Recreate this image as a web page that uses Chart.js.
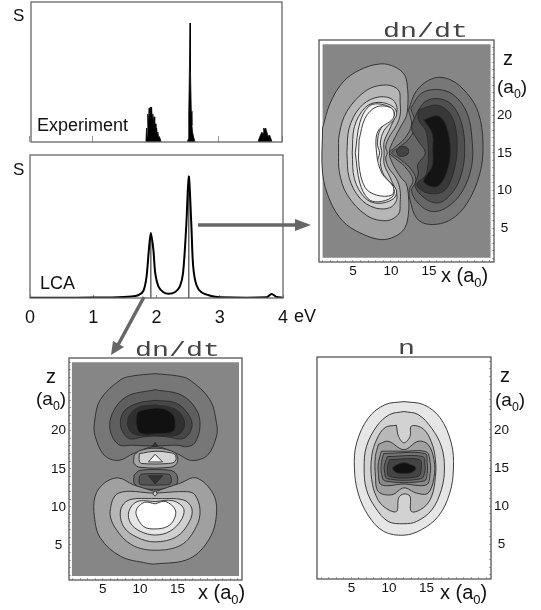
<!DOCTYPE html>
<html>
<head>
<meta charset="utf-8">
<script src="https://cdn.jsdelivr.net/npm/chart.js@4"></script>
<style>
html, body { margin: 0; padding: 0; background: #fff; }
body { position: relative; width: 541px; height: 610px; overflow: hidden; }
canvas { position: absolute; }
svg { position: absolute; left: 0; top: 0; }
.t { position: absolute; font-family: "Liberation Sans", sans-serif; line-height: 1; white-space: nowrap; color: #111; }
.t sub { font-size: 65%; line-height: 0; }
.m { position: absolute; font-family: "Liberation Mono", monospace; font-size: 21px; line-height: 1; color: #444; transform: scaleX(1.35); transform-origin: left top; }
</style>
</head>
<body>
<canvas id="expChart"></canvas>
<canvas id="lcaChart"></canvas>
<canvas id="rightChart"></canvas>
<canvas id="leftChart"></canvas>
<canvas id="densChart"></canvas>

<svg width="541" height="610">
  <line x1="198" y1="225" x2="297" y2="225" stroke="#666" stroke-width="3.5"/>
  <polygon points="311,225 295,219 295,231" fill="#666"/>
  <line x1="144" y1="297" x2="118" y2="345" stroke="#666" stroke-width="3.5"/>
  <polygon points="111,355 113,341 124,347" fill="#666"/>
</svg>

<div class="t" style="left:13px;top:7px;font-size:17px">S</div>
<div class="t" style="left:13px;top:161px;font-size:17px">S</div>
<div class="t" style="left:37px;top:116px;font-size:18px">Experiment</div>
<div class="t" style="left:40px;top:274px;font-size:18px">LCA</div>
<div class="t" style="left:294px;top:307px;font-size:18px">eV</div>

<div class="m" style="left:383px;top:21px">dn/dt</div>
<div class="m" style="left:135px;top:340px">dn/dt</div>
<div class="m" style="left:398px;top:338px">n</div>

<div class="t" style="left:503px;top:48px;font-size:20px">z</div>
<div class="t" style="left:497px;top:77px;font-size:19px">(a<sub>0</sub>)</div>
<div class="t" style="left:441px;top:265px;font-size:20px">x (a<sub>0</sub>)</div>

<div class="t" style="left:46px;top:366px;font-size:20px">z</div>
<div class="t" style="left:36px;top:389px;font-size:19px">(a<sub>0</sub>)</div>
<div class="t" style="left:198px;top:582px;font-size:20px">x (a<sub>0</sub>)</div>

<div class="t" style="left:500px;top:365px;font-size:20px">z</div>
<div class="t" style="left:495px;top:390px;font-size:19px">(a<sub>0</sub>)</div>
<div class="t" style="left:440px;top:582px;font-size:20px">x (a<sub>0</sub>)</div>

<script>
// --- spectra ---
const expPeak1 = [[1.84,0],[1.85,.10],[1.86,.04],[1.87,.2],[1.88,.12],[1.89,.24],[1.9,.16],[1.91,.25],[1.92,.2],[1.93,.25],[1.94,.17],[1.95,.2],[1.96,.13],[1.97,.18],[1.98,.1],[1.99,.13],[2,.07],[2.01,.1],[2.02,.05],[2.03,.07],[2.04,.03],[2.05,.04],[2.07,.02],[2.08,0]];
const expPeak2 = [[2.5,0],[2.51,.02],[2.52,.2],[2.53,.5],[2.54,.85],[2.545,.6],[2.55,.5],[2.56,.22],[2.57,.12],[2.58,.07],[2.6,.03],[2.62,0]];
const expPeak3 = [[3.62,0],[3.64,.03],[3.66,.05],[3.68,.07],[3.7,.06],[3.71,.1],[3.72,.09],[3.74,.1],[3.76,.07],[3.78,.04],[3.8,.05],[3.82,.03],[3.84,0]];

const lcaEnergy = [0,.5,1,1.3,1.6,1.71,1.79,1.84,1.88,1.91,1.95,1.98,2.03,2.11,2.19,2.29,2.37,2.42,2.47,2.51,2.55,2.58,2.63,2.71,2.85,3,3.74,3.82,3.9,4];
const lcaS = [.002,.002,.003,.004,.01,.019,.047,.14,.34,.455,.34,.175,.082,.04,.03,.04,.082,.175,.5,.85,.52,.22,.093,.04,.016,.005,.005,.028,.007,.002];
const lcaSticks = [[1.91,.455],[2.51,.85]];
const evTicks = [0,1,2,3,4];

// --- tick labels of the contour panels ---
const xLabels = [5,10,15];
const zLabels = [5,10,15,20];
const xTicks = [1,2,3,4,5,6,7,8,9,10,11,12,13,14,15,16,17,18,19,20,21,22,23];
const zTicks = [1,2,3,4,5,6,7,8,9,10,11,12,13,14,15,16,17,18,19,20,21,22,23,24,25,26,27,28,29];

// --- dn/dt at 2.5 eV (upper right), contours as [x, z] ---
const rPlate = [[1,1.1],[1,29.4],[23.1,29.4],[23.1,1.1]];
const rLight1 = [[1,18.3],[2,21.6],[3.7,24.4],[5.9,26],[8.6,26.8],[10.5,26.4],[11.8,25.3],[12.2,23.3],[12.2,21],[12,19.8],[11.4,18.7],[10.5,17],[9.9,15.7],[9.8,15],[9.9,14.3],[10.5,13],[11.4,11.6],[12,10.9],[12.3,9.2],[12.3,7],[11.8,5],[10.5,3.9],[8.6,3.5],[5.9,4.4],[3.7,5.9],[2,8.6],[1,12.3]];
const rLight2 = [[3.1,15],[3.2,17.5],[4.2,20.5],[6.8,23.3],[9.4,24],[11,23.3],[11.2,21.7],[11.2,20],[10.7,18.6],[9.7,17],[9.3,15.8],[9.5,15],[9.3,14.2],[9.7,13],[10.7,11.6],[11.2,10],[11.2,8.4],[11,6.9],[9.4,6],[6.8,6.7],[4.2,9.5],[3.2,12.5]];
const rLight3 = [[4.2,15],[4.5,18.3],[5.9,21],[7.9,22.3],[10,22.2],[10.8,20.8],[9.9,18.3],[9.1,16.5],[9.1,15],[9.1,13.5],[9.9,11.7],[10.8,9.2],[10,7.8],[7.9,7.7],[5.9,9],[4.5,11.7]];
const rLight4 = [[4.9,15],[5.2,18.5],[6.6,21],[8.3,21.7],[10.3,21.1],[10.7,19.9],[9.1,18],[8.6,16.3],[8.8,15],[8.6,13.7],[9.1,12],[10.7,10.1],[10.3,8.9],[8.3,8.3],[6.6,9],[5.2,11.5]];
const rLight5 = [[5.3,15],[5.9,19],[7,21.1],[8.3,21.5],[10.1,20.9],[10.4,19.9],[8.7,18.3],[8.2,16.3],[8.5,15],[8.2,13.7],[8.7,11.7],[10.4,10.1],[10.1,9.1],[8.3,8.5],[7,8.9],[5.9,11]];
const rWhite = [[5.8,16.7],[6.6,19.6],[8.1,21.1],[10.1,20.9],[10.3,19.6],[8.3,17.9],[8.1,15],[8.8,12.3],[10.3,10.5],[10.1,9.4],[8.1,9.4],[6.6,10.4],[5.8,13.3]];
const rDark1 = [[12.3,20.7],[13.4,23.3],[15.6,24.9],[17.8,24.7],[20,22.9],[21.5,20.3],[22.1,16.3],[21.7,12.3],[20,8.3],[17.8,6.1],[15.1,5.5],[13.4,6.3],[12.5,8.8],[12.4,10.1],[12.9,11.4],[11.8,13.2],[10.5,14.3],[9.8,15],[10.5,15.7],[11.8,16.9],[12.7,18.7]];
const rDark2 = [[12.6,20.9],[14,22.9],[16.2,23.4],[18.2,22.7],[20,20.3],[20.7,16.3],[20.6,13.2],[19.5,10.1],[17.8,8.1],[15.8,7.2],[14,7.9],[12.7,9.9],[13.3,11.4],[12.5,13],[11,14.3],[10.1,15],[11,15.7],[12.4,16.9],[13.2,18.7]];
const rDark3 = [[13.4,20.3],[14.5,21.8],[16.2,22.2],[18,21.4],[19.3,18.9],[19.7,15.4],[19.3,12.3],[18.2,9.9],[16.4,8.4],[14.7,8.8],[13.2,10.5],[13.6,12.3],[13.5,13.4],[14.5,15],[13.5,16.7],[12.7,18.3]];
const rBlob = [[10.7,15.3],[11.2,15.8],[12.1,15.7],[12.3,15],[11.8,14.6],[11,14.6]];
const rDark4 = [[13.6,20.7],[16.2,21.3],[18,19.8],[18.7,16.3],[18.2,12.3],[16.9,9.9],[14.7,9.7],[13.4,10.8],[14.7,12.3],[14.7,17.6],[13.6,19.4]];
const rDark5 = [[14.3,19.4],[16.2,19.9],[17.3,18.5],[17.8,15.4],[17.3,12.3],[16,10.5],[14.3,11.2],[15.4,13.2],[15.5,15.4],[15.4,17.6]];

// --- dn/dt at 1.9 eV (lower left) ---
const lPlate = [[.9,.9],[.9,29],[23.2,29],[23.2,.9]];
const lTop1 = [[12,27.5],[9,27.2],[7.4,26.7],[4.7,24.1],[3.9,21],[4,19.3],[5.2,16.8],[7.1,16.1],[9.1,17],[12,17.9],[14.9,17],[16.9,16.1],[19,16.8],[20.2,19.3],[20.2,21],[19.3,24.1],[16.6,26.7],[15,27.2]];
const lTop2 = [[12,25.4],[8.2,24.5],[6.3,22.3],[6,20.1],[7.1,18.2],[9,18.1],[12,18],[15,18.1],[16.2,17.9],[17.3,18.4],[18,20.6],[17.5,22.8],[15.5,24.7]];
const lTop3 = [[12,24],[9.6,23.6],[7.8,22.5],[7.4,20.6],[8.5,19],[10.5,19.2],[12,19.3],[13.5,19.2],[15.8,19],[16.9,20.4],[16.6,21.9],[14.9,23.6]];
const lTop4 = [[12,23.4],[9.8,23.1],[8.5,21.9],[8.4,20.5],[9.3,19.5],[12,19.4],[14.9,19.4],[15.9,20.5],[15.6,22],[14.3,23]];
const lTop5 = [[9.5,21.9],[9.8,22.5],[11.3,22.9],[13.1,22.9],[14.4,22.1],[14.7,21],[14.4,19.9],[12.2,19.6],[10,19.7],[9.5,20.8]];
const lNotchUp = [[12,18.5],[12.4,17.9],[11.6,17.9]];
const lBandA1 = [[9.2,16.8],[10,17.4],[12,17.7],[14,17.4],[14.9,16.8],[14.9,15.7],[14,15.2],[10,15.2],[9.2,15.7]];
const lBandA2 = [[9.9,17],[12,17.3],[14.1,17.1],[14.7,16.8],[14.7,16],[13.8,15.7],[10.2,15.7],[9.9,16]];
const lBandA3 = [[12,16.9],[13,15.9],[11.1,15.9]];
const lBandB1 = [[9.2,14.2],[10,14.8],[14,14.8],[14.9,14.2],[14.9,13],[14,12.5],[12,12.3],[10,12.5],[9.2,13.1]];
const lBandB2 = [[9.9,14],[10.2,14.3],[13.8,14.3],[14.1,14],[14.1,13.1],[13.6,12.9],[10.2,12.9],[9.9,13.1]];
const lBandB3 = [[11.1,14.1],[13,14.1],[12,13]];
const lBot1 = [[12,12],[9.1,12.9],[7.1,13.8],[5.2,13.1],[4,11.4],[3.9,8.7],[4.7,5.9],[7.4,3.5],[10.9,2.6],[12,2.5],[16.6,3.2],[19.3,5.9],[20.2,9.2],[19.7,11.8],[17.5,13.8],[15.3,13.1]];
const lBot2 = [[12,11.8],[7.1,11.8],[6,9.4],[6.7,7.2],[8.9,5],[12,4.3],[15.5,5],[17.5,7.4],[18,9.6],[17.3,11.6],[16.2,12]];
const lBot3 = [[12,11.1],[8.5,10.9],[7.4,9.6],[7.8,7.4],[9.6,6],[12,5.4],[14.9,6.1],[16.6,8.1],[16.9,9.8],[15.8,10.9]];
const lBot4 = [[12,10.7],[9.6,10.7],[8.5,9.4],[8.7,7.9],[10,6.8],[12,6.3],[14,6.8],[15.5,8.3],[15.8,9.8],[14.4,10.8]];
const lBot5 = [[12,10.4],[10.6,10.6],[9.6,9.8],[9.5,8.9],[10.5,7.4],[12,7.1],[13.6,7.4],[14.5,8.3],[14.7,9.6],[13.4,10.7]];
const lNotchDown = [[12,12.2],[12.3,11.7],[12,11.4],[11.7,11.7]];

// --- ground state density n (lower right) ---
const nLevel1 = [[12,23.7],[14.6,23.3],[16.8,21.6],[18.3,18.3],[18.6,15],[18.1,11.7],[16.6,8.7],[14.3,6.9],[12,6.2],[9.3,6.7],[7.3,8.7],[5.9,11.7],[5.4,15],[5.7,18.3],[7.3,21.6],[9.5,23.3]];
const nLevel2 = [[12,22.4],[13.9,22],[15.7,20.2],[17,17.8],[17.4,15],[17,12.2],[15.7,9.5],[13.7,8],[12,7.7],[9.9,8],[8.2,9.8],[7,12.2],[6.7,15],[7,17.8],[8.4,20.5],[10.1,22]];
const nLevel3 = [[11,20.6],[11.3,19.1],[12,18.3],[12.8,19.1],[13,20.5],[14.6,20.1],[15.7,18.3],[16.2,16.1],[16.2,13.9],[15.7,11.3],[14.6,9.8],[13,9.3],[12.8,11.3],[12,11.6],[11.3,11.1],[11,9.3],[9.5,9.8],[8.4,11.1],[7.7,13.5],[7.7,16.5],[8.4,18.8],[9.5,20.3]];
const nLevel4 = [[8.6,18.1],[9.9,18.5],[12,17.4],[13.9,18.5],[15.2,18.1],[16,16.1],[16,13.7],[15.2,11.7],[13.7,11.7],[12,12.4],[10.4,11.5],[8.6,11.9],[8.2,13.9],[8.2,16.5]];
const nLevel5 = [[9,17.2],[12,17.2],[15,17.1],[15.5,15.7],[15.5,14.3],[15,12.8],[12,12.9],[9,12.8],[8.6,14.3],[8.6,15.7]];
const nLevel6 = [[9.3,16.9],[14.8,16.9],[15.1,15.7],[15.1,14.3],[14.7,13.3],[9.5,13.3],[9,14.3],[9,15.7]];
const nLevel7 = [[9.8,16.5],[14.5,16.5],[14.8,15.4],[14.8,14.6],[14.3,13.6],[9.8,13.6],[9.4,14.6],[9.4,15.4]];
const nLevel8 = [[10.1,16.1],[14.1,16.1],[14.3,15],[13.9,13.9],[10.1,13.9],[9.8,15]];
const nLevel9 = [[11,15.4],[12,15.7],[13,15.4],[13.6,15],[13,14.4],[12,14.3],[11,14.4],[10.5,15]];

Chart.defaults.font.family = '"Liberation Sans", sans-serif';
Chart.defaults.color = "#111";

const frameBox = {
    id: "frameBox",
    afterDraw(chart, args, opts) {
        const a = chart.chartArea;
        chart.ctx.save();
        chart.ctx.strokeStyle = opts.color;
        chart.ctx.lineWidth = 1.3;
        chart.ctx.strokeRect(a.left, a.top, a.right - a.left, a.bottom - a.top);
        chart.ctx.restore();
    }
};

const toPoints = pairs => pairs.map(p => ({ x: p[0], y: p[1] }));

// place the canvas so the plot area lands exactly on the frame
function baseChart(id, frame, margin, yAxis, datasets, xScale, frameColor) {
    const canvas = document.getElementById(id);
    canvas.width = frame.w + margin.l + margin.r;
    canvas.height = frame.h + margin.t + margin.b;
    canvas.style.left = (frame.x - margin.l) + "px";
    canvas.style.top = (frame.y - margin.t) + "px";
    const right = yAxis.position === "right";
    const hasLabels = yAxis.display !== false;
    return new Chart(canvas.getContext("2d"), {
        type: "scatter",
        data: { datasets },
        options: {
            responsive: false,
            animation: false,
            devicePixelRatio: 1,
            layout: { padding: {
                left: hasLabels && !right ? 0 : margin.l,
                right: hasLabels && right ? 0 : margin.r,
                top: margin.t,
                bottom: 0
            } },
            plugins: { legend: { display: false }, tooltip: { enabled: false }, frameBox: { color: frameColor } },
            scales: {
                x: Object.assign({ type: "linear" }, xScale, { afterFit: s => {
                    s.height = margin.b;
                    s.paddingLeft = 0;
                    s.paddingRight = 0;
                } }),
                y: Object.assign({ type: "linear" }, yAxis, { afterFit: s => {
                    s.width = !hasLabels ? 0 : (right ? margin.r : margin.l);
                    s.paddingTop = 0;
                    s.paddingBottom = 0;
                } })
            }
        },
        plugins: [frameBox]
    });
}

function tickGrid(len, color) {
    return { drawOnChartArea: false, tickLength: -len, tickColor: color, tickWidth: 1 };
}

function contourChart(id, frame, margin, side, xRange, zRange, levels) {
    const datasets = levels.map((lv, i) => {
        const pts = toPoints(lv.pts.concat([lv.pts[0]]));
        return {
            data: pts,
            showLine: true,
            pointRadius: 0,
            tension: lv.sharp ? 0 : 0.36,
            fill: "shape",
            backgroundColor: lv.color,
            borderColor: lv.line === false ? "transparent" : "#2a2a2a",
            borderWidth: 0.9,
            order: levels.length - i
        };
    });
    return baseChart(id, frame, margin, {
        position: side,
        min: zRange[0],
        max: zRange[1],
        afterBuildTicks: a => { a.ticks = zTicks.map(v => ({ value: v })); },
        border: { display: false },
        grid: tickGrid(2, "#aaa"),
        ticks: {
            autoSkip: false,
            padding: 5,
            crossAlign: "center",
            font: { size: 13.5 },
            callback: v => zLabels.includes(v) ? String(v) : ""
        }
    }, datasets, {
        min: xRange[0],
        max: xRange[1],
        afterBuildTicks: a => { a.ticks = xTicks.map(v => ({ value: v })); },
        border: { display: false },
        grid: tickGrid(2, "#aaa"),
        ticks: {
            autoSkip: false,
            maxRotation: 0,
            padding: 3,
            font: { size: 13.5 },
            callback: v => xLabels.includes(v) ? String(v) : ""
        }
    }, "#555");
}

const hiddenS = { display: false, min: 0, max: 1 };

// --- EXPERIMENT ---
baseChart("expChart", { x: 31, y: 2, w: 251, h: 140 }, { l: 2, r: 2, t: 2, b: 4 }, hiddenS,
    [expPeak1, expPeak2, expPeak3].map(peak => ({
        data: toPoints(peak),
        showLine: true,
        pointRadius: 0,
        borderColor: "#000",
        borderWidth: 0.8,
        backgroundColor: "#000",
        fill: "origin"
    })),
    {
        min: 0.016, max: 4,
        afterBuildTicks: a => { a.ticks = evTicks.map(v => ({ value: v })); },
        border: { display: false },
        grid: tickGrid(6, "#999"),
        ticks: { display: false }
    }, "#666");

// --- LCA ---
const lcaCurve = lcaEnergy.map((e, i) => ({ x: e, y: lcaS[i] }));
baseChart("lcaChart", { x: 30, y: 155, w: 253, h: 143 }, { l: 12, r: 12, t: 2, b: 30 }, hiddenS,
    [{
        data: lcaCurve,
        showLine: true,
        pointRadius: 0,
        borderColor: "#000",
        borderWidth: 2,
        tension: 0.3,
        order: 0
    }].concat(lcaSticks.map(s => ({
        data: [{ x: s[0], y: 0 }, { x: s[0], y: s[1] }],
        showLine: true,
        pointRadius: 0,
        borderColor: "#666",
        borderWidth: 1.5,
        order: 1
    }))),
    {
        min: 0, max: 4,
        afterBuildTicks: a => { a.ticks = evTicks.map(v => ({ value: v })); },
        border: { display: false },
        grid: tickGrid(3, "#888"),
        ticks: { padding: 12, maxRotation: 0, font: { size: 18 }, callback: v => String(v) }
    }, "#666");

// --- CONTOUR PANELS ---
contourChart("rightChart", { x: 319, y: 40, w: 175, h: 222 }, { l: 2, r: 36, t: 2, b: 20 }, "right", [.53, 23.55], [.52, 29.97], [
    { pts: rPlate, color: "#868686", line: false, sharp: true },
    { pts: rLight1, color: "#a0a0a0" },
    { pts: rLight2, color: "#b6b6b6" },
    { pts: rLight3, color: "#cecece" },
    { pts: rLight4, color: "#e2e2e2" },
    { pts: rLight5, color: "#f0f0f0" },
    { pts: rWhite, color: "#ffffff" },
    { pts: rDark1, color: "#777777" },
    { pts: rDark2, color: "#666666" },
    { pts: rBlob, color: "#444444" },
    { pts: rDark3, color: "#505050" },
    { pts: rDark4, color: "#383838" },
    { pts: rDark5, color: "#141414" }
]);

contourChart("leftChart", { x: 68.5, y: 358, w: 173.5, h: 222 }, { l: 30, r: 2, t: 2, b: 20 }, "left", [.51, 23.6], [.39, 29.56], [
    { pts: lPlate, color: "#868686", line: false, sharp: true },
    { pts: lTop1, color: "#777777" },
    { pts: lTop2, color: "#5f5f5f" },
    { pts: lTop3, color: "#474747" },
    { pts: lTop4, color: "#303030" },
    { pts: lTop5, color: "#111111" },
    { pts: lNotchUp, color: "#333333", sharp: true },
    { pts: lBandA1, color: "#a6a6a6" },
    { pts: lBandA2, color: "#d2d2d2" },
    { pts: lBandA3, color: "#f4f4f4", sharp: true },
    { pts: lBandB1, color: "#6d6d6d" },
    { pts: lBandB2, color: "#555555" },
    { pts: lBandB3, color: "#333333", sharp: true },
    { pts: lBot1, color: "#a0a0a0" },
    { pts: lBot2, color: "#b5b5b5" },
    { pts: lBot3, color: "#cfcfcf" },
    { pts: lBot4, color: "#e6e6e6" },
    { pts: lBot5, color: "#ffffff" },
    { pts: lNotchDown, color: "#cfcfcf", sharp: true }
]);

contourChart("densChart", { x: 316.7, y: 357, w: 174.3, h: 222 }, { l: 2, r: 36, t: 2, b: 20 }, "right", [.42, 23.6], [.46, 29.54], [
    { pts: nLevel1, color: "#e6e6e6" },
    { pts: nLevel2, color: "#d2d2d2" },
    { pts: nLevel3, color: "#b8b8b8" },
    { pts: nLevel4, color: "#a0a0a0" },
    { pts: nLevel5, color: "#8a8a8a" },
    { pts: nLevel6, color: "#747474" },
    { pts: nLevel7, color: "#5e5e5e" },
    { pts: nLevel8, color: "#444444" },
    { pts: nLevel9, color: "#111111" }
]);
</script>
</body>
</html>
